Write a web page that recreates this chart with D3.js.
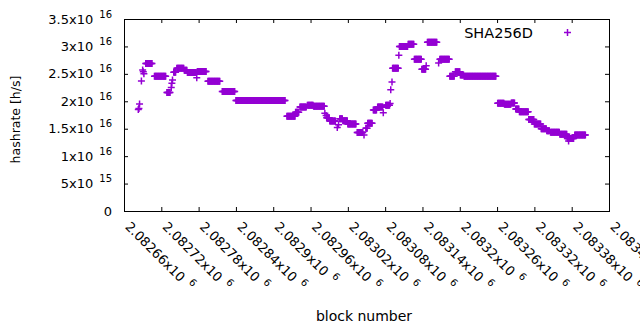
<!DOCTYPE html>
<html>
<head>
<meta charset="utf-8">
<script src="https://cdn.jsdelivr.net/npm/d3@7"></script>
<style>
  html, body { margin: 0; padding: 0; background: #fff; }
  svg { display: block; }
  text { font-family: "DejaVu Sans", sans-serif; fill: #000; }
</style>
</head>
<body>
<svg id="chart" width="640" height="330"></svg>
<script>
// ---- data (runs of consecutive blocks sharing the same hashrate) ----
const segStart = [2082683,2082684,2082685,2082688,2082690,2082691,2082692,2082695,2082709,2082729,2082736,2082737,2082738,2082740,2082745,2082757,2082762,2082777,2082778,2082795,2082818,2082840,2082922,2082936,2082943,2082955,2082965,2082983,2082985,2082986,2082991,2083003,2083005,2083007,2083012,2083020,2083035,2083046,2083049,2083052,2083061,2083068,2083077,2083081,2083088,2083089,2083091,2083092,2083102,2083103,2083117,2083127,2083139,2083146,2083148,2083166,2083168,2083184,2083193,2083201,2083207,2083261,2083272,2083283,2083290,2083296,2083311,2083320,2083331,2083340,2083346,2083361,2083373,2083375,2083385];
const segEnd   = [2082683,2082684,2082685,2082688,2082690,2082691,2082692,2082705,2082727,2082734,2082736,2082737,2082738,2082743,2082756,2082761,2082776,2082777,2082792,2082814,2082838,2082919,2082935,2082941,2082953,2082964,2082982,2082983,2082985,2082990,2083000,2083003,2083005,2083011,2083019,2083033,2083044,2083046,2083051,2083059,2083066,2083076,2083077,2083087,2083088,2083089,2083091,2083101,2083102,2083116,2083126,2083138,2083145,2083146,2083163,2083166,2083183,2083191,2083200,2083206,2083258,2083271,2083282,2083288,2083295,2083310,2083319,2083330,2083339,2083344,2083360,2083372,2083383,2083375,2083402];
const segValue = [1.85e16,1.87e16,1.95e16,2.37e16,2.57e16,2.54e16,2.50e16,2.69e16,2.455e16,2.16e16,2.25e16,2.33e16,2.39e16,2.53e16,2.60e16,2.565e16,2.525e16,2.43e16,2.545e16,2.365e16,2.18e16,2.015e16,1.725e16,1.80e16,1.895e16,1.93e16,1.91e16,1.78e16,1.74e16,1.70e16,1.64e16,1.52e16,1.57e16,1.68e16,1.645e16,1.585e16,1.43e16,1.385e16,1.51e16,1.60e16,1.84e16,1.895e16,1.79e16,1.93e16,1.96e16,2.21e16,2.35e16,2.60e16,2.84e16,3.00e16,3.04e16,2.765e16,2.585e16,2.65e16,3.075e16,2.70e16,2.765e16,2.455e16,2.54e16,2.48e16,2.455e16,1.965e16,1.945e16,1.97e16,1.86e16,1.81e16,1.67e16,1.585e16,1.50e16,1.465e16,1.435e16,1.40e16,1.32e16,1.275e16,1.385e16];

const seriesName = "SHA256D";
const xDomain = [2082660, 2083440];
const yDomain = [0, 3.5e16];

const xTicks = [2082660,2082720,2082780,2082840,2082900,2082960,2083020,2083080,2083140,2083200,2083260,2083320,2083380,2083440];
const xTickLabels = ["2.08266x10","2.08272x10","2.08278x10","2.08284x10","2.0829x10","2.08296x10","2.08302x10","2.08308x10","2.08314x10","2.0832x10","2.08326x10","2.08332x10","2.08338x10","2.08344x10"];
const xTickExp = ["6","6","6","6","6","6","6","6","6","6","6","6","6","6"];

const yTicks = [0,5e15,1e16,1.5e16,2e16,2.5e16,3e16,3.5e16];
const yTickLabels = ["0","5x10","1x10","1.5x10","2x10","2.5x10","3x10","3.5x10"];
const yTickExp = ["","15","16","16","16","16","16","16"];

const xTitle = "block number";
const yTitle = "hashrate [h/s]";

// ---- layout ----
const L = 124, R = 609, T = 19, B = 211;
const color = "#9400d3";
const svg = d3.select("#chart");
svg.append("rect").attr("width", 640).attr("height", 330).attr("fill", "#fff");

const x = d3.scaleLinear().domain(xDomain).range([L, R]);
const y = d3.scaleLinear().domain(yDomain).range([B, T]);

// points: one per block
const points = [];
segStart.forEach((s, i) => {
  for (let b = s; b <= segEnd[i]; b++) points.push({ b: b, v: segValue[i] });
});

// ticks (inward, mirrored)
const tk = 4;
function styleAxis(g) {
  g.select(".domain").remove();
  g.selectAll(".tick line").attr("stroke", "#000").attr("stroke-width", 1);
  g.selectAll(".tick text").remove();
}
svg.append("g").attr("transform", `translate(0,${B})`)
  .call(d3.axisBottom(x).tickValues(xTicks).tickSize(-tk)).call(styleAxis);
svg.append("g").attr("transform", `translate(0,${T})`)
  .call(d3.axisTop(x).tickValues(xTicks).tickSize(-tk)).call(styleAxis);
svg.append("g").attr("transform", `translate(${L},0)`)
  .call(d3.axisLeft(y).tickValues(yTicks).tickSize(-tk)).call(styleAxis);
svg.append("g").attr("transform", `translate(${R},0)`)
  .call(d3.axisRight(y).tickValues(yTicks).tickSize(-tk)).call(styleAxis);

// frame
svg.append("rect")
  .attr("x", L + 0.5).attr("y", T + 0.5)
  .attr("width", R - L).attr("height", B - T)
  .attr("fill", "none").attr("stroke", "#000").attr("stroke-width", 1);

// y tick labels
const tickFont = 13, supFont = 10;
svg.append("g").selectAll("text").data(yTicks).join("text")
  .attr("x", 112).attr("y", d => y(d) + 4.5)
  .attr("text-anchor", "end")
  .style("font-size", tickFont + "px")
  .each(function (d, i) {
    const t = d3.select(this);
    t.append("tspan").text(yTickLabels[i]);
    if (yTickExp[i]) {
      t.append("tspan").attr("dx", 6).attr("dy", -6)
        .style("font-size", supFont + "px").text(yTickExp[i]);
    }
  });

// x tick labels (rotated)
svg.append("g").selectAll("text").data(xTicks).join("text")
  .attr("transform", d => `translate(${x(d) + 0.5},${B + 16.5}) rotate(45)`)
  .attr("text-anchor", "start")
  .style("font-size", tickFont + "px")
  .each(function (d, i) {
    const t = d3.select(this);
    t.append("tspan").text(xTickLabels[i]);
    t.append("tspan").attr("dx", 6).attr("dy", -6)
      .style("font-size", supFont + "px").text(xTickExp[i]);
  });

// axis titles
svg.append("text").attr("x", 364).attr("y", 321)
  .attr("text-anchor", "middle").style("font-size", "14px").text(xTitle);
svg.append("text").attr("transform", "translate(20,119.5) rotate(-90)")
  .attr("text-anchor", "middle").style("font-size", "12.5px").text(yTitle);

// data points (plus markers)
const plus = "M-3.5,0H3.5M0,-3.5V3.5";
svg.append("g").selectAll("path").data(points).join("path")
  .attr("d", plus)
  .attr("transform", d => `translate(${x(d.b)},${y(d.v)})`)
  .attr("fill", "none").attr("stroke", color).attr("stroke-width", 1.5);

// legend
svg.append("text").attr("x", 533).attr("y", 37.5)
  .attr("text-anchor", "end").style("font-size", "14.5px").text(seriesName);
svg.append("path").attr("d", plus)
  .attr("transform", "translate(567.5,32.5)")
  .attr("fill", "none").attr("stroke", color).attr("stroke-width", 1.5);
</script>
</body>
</html>
